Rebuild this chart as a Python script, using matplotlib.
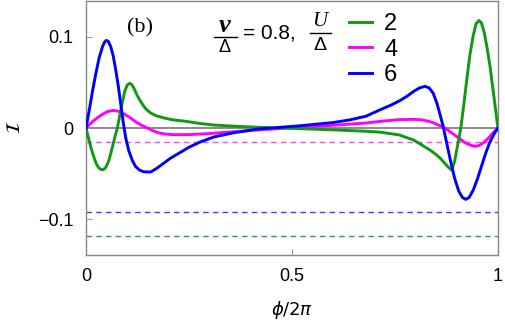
import numpy as np
import matplotlib
matplotlib.use("Agg")
from matplotlib import pyplot as plt
from matplotlib.lines import Line2D

plt.rcParams['font.family'] = ['Liberation Sans', 'DejaVu Sans']
plt.rcParams['mathtext.fontset'] = 'dejavusans'

# U/Delta = 2 (green)
x_u2 = [0, 0.005, 0.01, 0.015, 0.02, 0.025, 0.03, 0.036, 0.042, 0.048, 0.055,
        0.06, 0.065, 0.07, 0.076, 0.082, 0.088, 0.094, 0.1, 0.106, 0.112,
        0.118, 0.124, 0.13, 0.137, 0.145, 0.157, 0.17, 0.19, 0.21, 0.24, 0.28,
        0.31, 0.36, 0.42, 0.52, 0.6, 0.68, 0.714, 0.76, 0.795, 0.835, 0.85,
        0.86, 0.87, 0.88, 0.888, 0.895, 0.90, 0.905, 0.91, 0.917, 0.925, 0.932,
        0.94, 0.947, 0.954, 0.96, 0.967, 0.974, 0.981, 0.987, 0.993, 1.0]
y_u2 = [0, -0.009, -0.018, -0.026, -0.033, -0.039, -0.043, -0.0453, -0.0455,
        -0.043, -0.036, -0.028, -0.019, -0.010, 0, 0.014, 0.028, 0.040, 0.047,
        0.049, 0.047, 0.042, 0.036, 0.031, 0.026, 0.021, 0.0164, 0.0135, 0.011,
        0.009, 0.0075, 0.0048, 0.0033, 0.002, 0.0008, -0.0007, -0.002, -0.0035,
        -0.0045, -0.0075, -0.013, -0.024, -0.029, -0.033, -0.038, -0.043,
        -0.046, -0.036, -0.024, -0.012, 0, 0.025, 0.055, 0.08, 0.101, 0.114,
        0.1177, 0.115, 0.104, 0.087, 0.067, 0.046, 0.025, 0]

# U/Delta = 4 (magenta)
x_u4 = [0, 0.01, 0.02, 0.03, 0.04, 0.052, 0.065, 0.078, 0.09, 0.105, 0.12,
        0.135, 0.149, 0.16, 0.175, 0.19, 0.21, 0.25, 0.3, 0.36, 0.42, 0.52,
        0.6, 0.68, 0.714, 0.76, 0.795, 0.815, 0.835, 0.85, 0.862, 0.875, 0.89,
        0.905, 0.92, 0.935, 0.946, 0.955, 0.965, 0.975, 0.985, 0.993, 1.0]
y_u4 = [0, 0.0045, 0.0085, 0.012, 0.015, 0.018, 0.0193, 0.0185, 0.016, 0.012,
        0.007, 0.003, 0, -0.0025, -0.005, -0.0065, -0.0072, -0.0072, -0.006,
        -0.004, -0.002, 0.001, 0.003, 0.0055, 0.0073, 0.0092, 0.0095, 0.009,
        0.007, 0.0045, 0.002, -0.001, -0.006, -0.011, -0.016, -0.019, -0.020,
        -0.019, -0.016, -0.012, -0.007, -0.003, 0]

# U/Delta = 6 (blue)
x_u6 = [0, 0.008, 0.016, 0.024, 0.032, 0.04, 0.045, 0.049, 0.054, 0.06,
        0.066, 0.072, 0.078, 0.085, 0.091, 0.097, 0.104, 0.112, 0.12, 0.13,
        0.14, 0.15, 0.157, 0.165, 0.175, 0.19, 0.205, 0.22, 0.25, 0.277, 0.31,
        0.36, 0.42, 0.52, 0.6, 0.641, 0.68, 0.714, 0.74, 0.762, 0.78, 0.795,
        0.81, 0.823, 0.833, 0.843, 0.852, 0.86, 0.867, 0.875, 0.885, 0.895,
        0.905, 0.914, 0.922, 0.93, 0.94, 0.95, 0.96, 0.97, 0.98, 0.99, 1.0]
y_u6 = [0, 0.02, 0.041, 0.06, 0.077, 0.089, 0.094, 0.0958, 0.095, 0.089,
        0.079, 0.064, 0.047, 0.024, 0.004, -0.012, -0.025, -0.035, -0.042,
        -0.046, -0.0478, -0.048, -0.048, -0.046, -0.043, -0.038, -0.033,
        -0.029, -0.021, -0.0153, -0.0098, -0.005, -0.001, 0.0025, 0.006, 0.009,
        0.013, 0.02, 0.025, 0.030, 0.035, 0.040, 0.044, 0.0456, 0.044, 0.038,
        0.027, 0.014, 0.002, -0.015, -0.036, -0.055, -0.069, -0.076, -0.078,
        -0.076, -0.068, -0.056, -0.042, -0.028, -0.016, -0.007, 0]

# dashed reference levels
levels = {'2': -0.118, '4': -0.0153, '6': -0.092}
colors = {'2': '#119911', '4': '#ff00ff', '6': '#0000ff'}
dash_colors = {'2': '#2a9a4a', '4': '#ff44ff', '6': '#3344ff'}

W, H = 506, 325
fig = plt.figure(figsize=(W / 100, H / 100), dpi=100)
ax = fig.add_axes([0.170, 0.215, 0.814, 0.782])

ax.axhline(0, color='#777777', lw=1.2, zorder=1)
for k in ['4', '6', '2']:
    ax.axhline(levels[k], color=dash_colors[k], lw=1.0, ls=(0, (4, 3)), zorder=1)

ax.plot(x_u2, y_u2, color=colors['2'], lw=2.1, label='2', zorder=3)
ax.plot(x_u4, y_u4, color=colors['4'], lw=2.1, label='4', zorder=2)
ax.plot(x_u6, y_u6, color=colors['6'], lw=2.1, label='6', zorder=3)

ax.set_xlim(0, 1)
ax.set_ylim(-0.139, 0.139)
ax.set_xticks([0, 0.5, 1])
ax.set_xticklabels(['0', '0.5', '1'])
ax.set_yticks([-0.1, 0, 0.1])
ax.set_yticklabels(['\u22120.1', '0', '0.1'])
ax.tick_params(direction='in', length=4, color='#999999', labelsize=13, pad=9)
for s in ax.spines.values():
    s.set_color('#888888')
    s.set_linewidth(1.0)

ax.set_xlabel(r'$\phi/2\pi$', fontsize=13, labelpad=10)
fig.text(0.03, 0.61, r'$\mathcal{I}$', fontsize=14, rotation=90,
         ha='center', va='center')

ax.text(0.131, 0.894, '(b)', transform=ax.transAxes, fontsize=16,
        family='Liberation Serif', ha='center', va='center')


# parameter label, built from pieces (pixel positions -> figure fractions)
def ftext(px, py, s, **kw):
    fig.text(px / W, 1 - py / H, s, ha='center', va='center', **kw)


def fbar(x0, x1, py):
    fig.add_artist(Line2D([x0 / W, x1 / W], [1 - py / H] * 2,
                          color='black', lw=1.0, transform=fig.transFigure))


ftext(225, 26, 'v', fontsize=19, family='Liberation Serif', style='italic',
      fontweight='bold')
fbar(214, 237, 37)
ftext(225, 48, '\u0394', fontsize=13)
ftext(269, 33, '= 0.8,', fontsize=15)
ftext(320, 22, 'U', fontsize=15, family='Liberation Serif', style='italic')
fbar(310, 331, 33)
ftext(320, 46, '\u0394', fontsize=14)

ax.legend(loc='upper left', bbox_to_anchor=(0.638, 0.952), frameon=False,
          fontsize=17, handlelength=1.0, handletextpad=0.5, labelspacing=0.15,
          borderaxespad=0, borderpad=0)

fig.savefig('out.png', dpi=100)
